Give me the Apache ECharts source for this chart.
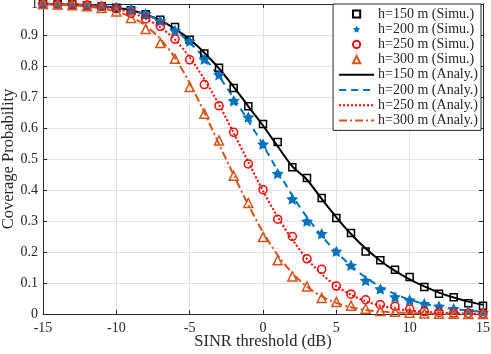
<!DOCTYPE html>
<html>
<head>
<meta charset="utf-8">
<script src="https://cdn.jsdelivr.net/npm/echarts@6/dist/echarts.min.js"></script>
<style>
  html, body { margin: 0; padding: 0; background: #fff; }
  #main { width: 491px; height: 354px; }
</style>
</head>
<body>
<div id="main"></div>
<script>
// SINR threshold (dB)
var thresholds = [-15, -14, -13, -12, -11, -10, -9, -8, -7, -6, -5, -4, -3, -2, -1, 0,
  1, 2, 3, 4, 5, 6, 7, 8, 9, 10, 11, 12, 13, 14, 15];

// simulation points
var simu150 = [1.0, 0.999, 0.998, 0.996, 0.993, 0.988, 0.98, 0.967, 0.949, 0.926, 0.885, 0.840, 0.794, 0.729, 0.670, 0.613,
  0.555, 0.473, 0.439, 0.374, 0.310, 0.261, 0.202, 0.173, 0.143, 0.119, 0.087, 0.065, 0.054, 0.035, 0.027];
var simu200 = [1.0, 0.999, 0.998, 0.996, 0.993, 0.99, 0.984, 0.968, 0.945, 0.915, 0.88, 0.822, 0.772, 0.688, 0.635, 0.548,
  0.453, 0.371, 0.299, 0.259, 0.202, 0.157, 0.108, 0.081, 0.055, 0.045, 0.033, 0.025, 0.017, 0.01, 0.006];
var simu250 = [1.0, 0.999, 0.998, 0.997, 0.993, 0.985, 0.97, 0.952, 0.928, 0.887, 0.820, 0.740, 0.672, 0.586, 0.484, 0.401,
  0.306, 0.250, 0.178, 0.144, 0.090, 0.064, 0.046, 0.030, 0.025, 0.016, 0.008, 0.005, 0.003, 0.002, 0.001];
var simu300 = [1.0, 0.998, 0.996, 0.993, 0.987, 0.976, 0.955, 0.919, 0.874, 0.823, 0.732, 0.646, 0.560, 0.446, 0.358, 0.248,
  0.173, 0.121, 0.089, 0.052, 0.039, 0.027, 0.017, 0.01, 0.007, 0.004, 0.002, 0.001, 0.001, 0, 0];

// analytical curves
var analy150 = [1.0, 0.999, 0.998, 0.996, 0.993, 0.988, 0.98, 0.966, 0.947, 0.92, 0.886, 0.843, 0.792, 0.733, 0.67, 0.608,
  0.541, 0.476, 0.433, 0.371, 0.312, 0.258, 0.211, 0.172, 0.139, 0.112, 0.089, 0.069, 0.053, 0.04, 0.03];
var analy200 = [1.0, 0.999, 0.998, 0.996, 0.993, 0.988, 0.98, 0.966, 0.945, 0.915, 0.876, 0.826, 0.766, 0.697, 0.623, 0.546,
  0.462, 0.382, 0.312, 0.252, 0.2, 0.156, 0.118, 0.088, 0.064, 0.046, 0.033, 0.023, 0.016, 0.011, 0.007];
var analy250 = [1.0, 0.999, 0.997, 0.995, 0.99, 0.984, 0.972, 0.953, 0.925, 0.885, 0.828, 0.757, 0.675, 0.584, 0.49, 0.397,
  0.313, 0.24, 0.178, 0.129, 0.09, 0.062, 0.041, 0.027, 0.017, 0.011, 0.007, 0.004, 0.002, 0.001, 0.001];
var analy300 = [1.0, 0.998, 0.996, 0.992, 0.986, 0.976, 0.958, 0.93, 0.887, 0.826, 0.745, 0.65, 0.548, 0.448, 0.352, 0.264,
  0.19, 0.132, 0.088, 0.057, 0.036, 0.022, 0.013, 0.008, 0.005, 0.003, 0.002, 0.001, 0.001, 0, 0];

var heights = ['150', '200', '250', '300'];
var colors = ['#000000', '#0072BD', '#FF0000', '#D95319'];

var starPath = 'path://M0,-10 L2.94,-4.05 L9.51,-3.09 L4.76,1.55 L5.88,8.09 L0,5 L-5.88,8.09 L-4.76,1.55 L-9.51,-3.09 L-2.94,-4.05 Z';

function pairs(ys) {
  return thresholds.map(function (x, i) { return [x, ys[i]]; });
}

var font = 'Liberation Serif';
var axisColor = '#262626';

var simuList = [simu150, simu200, simu250, simu300];
var analyList = [analy150, analy200, analy250, analy300];
var symbols = ['rect', starPath, 'circle', 'triangle'];
var symSizes = [7, 12, 8, 9];
var lineTypes = ['solid', [7, 5], [2, 2], [8, 3, 2, 3]];

var series = [];
for (var i = 0; i < 4; i++) {
  var filled = i === 1;
  series.push({
    name: 'h=' + heights[i] + ' m (Simu.)',
    type: 'line',
    data: pairs(simuList[i]),
    symbol: symbols[i],
    symbolSize: symSizes[i],
    symbolKeepAspect: true,
    lineStyle: { width: 0, opacity: 0 },
    itemStyle: {
      color: filled ? colors[i] : 'rgba(255,255,255,0)',
      borderColor: colors[i],
      borderWidth: filled ? 0 : 1.5
    },
    z: 5,
    animation: false
  });
}
for (var j = 0; j < 4; j++) {
  series.push({
    name: 'h=' + heights[j] + ' m (Analy.)',
    type: 'line',
    data: pairs(analyList[j]),
    smooth: 0.3,
    showSymbol: false,
    symbol: 'none',
    lineStyle: { color: colors[j], width: 2, type: lineTypes[j] },
    itemStyle: { color: 'rgba(0,0,0,0)', borderWidth: 0 },
    z: 3,
    animation: false
  });
}

var chart = echarts.init(document.getElementById('main'));
chart.setOption({
  animation: false,
  grid: { left: 43, right: 8, top: 4, bottom: 40, outerBoundsMode: 'none' },
  legend: {
    orient: 'vertical',
    right: 10,
    top: 4,
    backgroundColor: '#fff',
    borderColor: axisColor,
    borderWidth: 1,
    borderRadius: 0,
    padding: [3, 3, 3, 5],
    itemWidth: 35,
    itemHeight: 9,
    itemGap: 1.2,
    textStyle: { fontFamily: font, fontSize: 14, color: axisColor, padding: [0, 0, 0, -1] },
    data: series.map(function (s) { return s.name; })
  },
  xAxis: [{
    type: 'value',
    min: -15, max: 15, interval: 5,
    name: 'SINR threshold (dB)',
    nameLocation: 'middle',
    nameGap: 19,
    nameMoveOverlap: false,
    nameTextStyle: { fontFamily: font, fontSize: 16.5, color: axisColor },
    axisLine: { onZero: false, lineStyle: { color: axisColor, width: 1 } },
    axisTick: { inside: true, length: 4, lineStyle: { color: axisColor } },
    axisLabel: { fontFamily: font, fontSize: 14, color: axisColor, margin: 7 },
    splitLine: { lineStyle: { color: '#e3e3e3', width: 1 } }
  }, {
    type: 'value', position: 'top',
    min: -15, max: 15, interval: 5,
    axisLine: { onZero: false, lineStyle: { color: axisColor, width: 1 } },
    axisTick: { inside: true, length: 4, lineStyle: { color: axisColor } },
    axisLabel: { show: false },
    splitLine: { show: false }
  }],
  yAxis: [{
    type: 'value',
    min: 0, max: 1, interval: 0.1,
    name: 'Coverage Probability',
    nameLocation: 'middle',
    nameGap: 26,
    nameMoveOverlap: false,
    nameTextStyle: { fontFamily: font, fontSize: 16.5, color: axisColor },
    axisLine: { show: true, onZero: false, lineStyle: { color: axisColor, width: 1 } },
    axisTick: { show: true, inside: true, length: 4, lineStyle: { color: axisColor } },
    axisLabel: {
      fontFamily: font, fontSize: 14, color: axisColor, margin: 5,
      formatter: function (v) { return String(Math.round(v * 10) / 10); }
    },
    splitLine: { lineStyle: { color: '#e3e3e3', width: 1 } }
  }, {
    type: 'value', position: 'right',
    min: 0, max: 1, interval: 0.1,
    axisLine: { show: true, onZero: false, lineStyle: { color: axisColor, width: 1 } },
    axisTick: { show: true, inside: true, length: 4, lineStyle: { color: axisColor } },
    axisLabel: { show: false },
    splitLine: { show: false }
  }],
  series: series
});
</script>
</body>
</html>
